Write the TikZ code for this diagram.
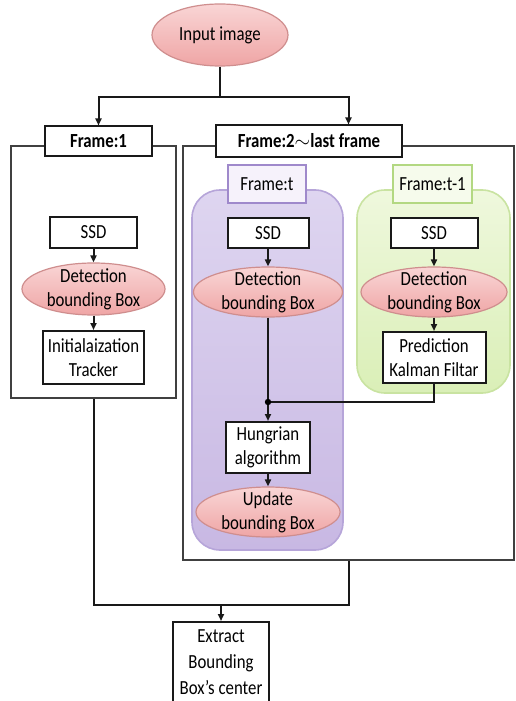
\documentclass[tikz,border=0pt]{standalone}
\usepackage{fontspec}
\setmainfont{Carlito}[FakeStretch=0.84]
\usetikzlibrary{shapes.geometric,arrows.meta}
\definecolor{pinktop}{HTML}{F9D5D5}
\definecolor{pinkbot}{HTML}{EFA5A5}
\definecolor{pinkline}{HTML}{CF8E8E}
\definecolor{lavtop}{HTML}{DED5F0}
\definecolor{lavbot}{HTML}{C8B8E3}
\definecolor{lavline}{HTML}{B6A5D9}
\definecolor{lavedge}{HTML}{9F89CB}
\definecolor{lavfill}{HTML}{F6F2FB}
\definecolor{grtop}{HTML}{EFF8DD}
\definecolor{grbot}{HTML}{DAEFB7}
\definecolor{grline}{HTML}{C9E3A1}
\definecolor{gredge}{HTML}{B3D882}
\definecolor{grfill}{HTML}{F6FBEC}
\definecolor{framegray}{HTML}{404040}

\begin{document}
\begin{tikzpicture}[x=0.5pt,y=-0.5pt,
    txt/.style={font=\fontsize{10}{12}\selectfont, align=center},
    blk/.style={txt, draw=black!90, line width=1pt, fill=white, inner sep=0pt},
    oval/.style={txt, ellipse, draw=pinkline, line width=0.6pt, top color=pinktop, bottom color=pinkbot, inner xsep=0pt, inner ysep=-3pt},
    outerbox/.style={draw=framegray, line width=1.2pt, inner sep=0pt},
    region/.style={rounded corners=14pt, line width=0.8pt, inner sep=0pt},
    ln/.style={draw=black!90, line width=1pt},
    arr/.style={ln, -{Triangle[length=3.5pt,width=3pt]}}]
    \useasboundingbox (0,0) rectangle (515,701);
    \clip (0,0) rectangle (515,701);
    \fill[white] (0,0) rectangle (515,701);

    \node[oval, minimum width=68pt, minimum height=31pt] (inp) at (220,35) {Input image};

    \node[outerbox, minimum width=82.5pt, minimum height=126pt] (lf) at (93.5,272) {};
    \node[outerbox, minimum width=165.5pt, minimum height=207pt] (rf) at (348.5,353) {};
    \node[blk, minimum width=53.5pt, minimum height=14.5pt, font=\fontsize{10}{12}\selectfont\bfseries] (f1) at (98.5,141) {Frame:1};
    \node[blk, minimum width=93pt, minimum height=15.5pt, font=\fontsize{10}{12}\selectfont\bfseries] (f2) at (309,141) {Frame:2$\sim$last frame};

    \node[region, draw=lavline, top color=lavtop, bottom color=lavbot, minimum width=75.5pt, minimum height=180pt] (pu) at (267.5,370) {};
    \node[region, draw=grline, top color=grtop, bottom color=grbot, minimum width=76.5pt, minimum height=101.5pt] (gr) at (433.5,291.5) {};
    \node[blk, draw=lavedge, fill=lavfill, line width=0.8pt, minimum width=39pt, minimum height=19pt] (ft) at (267,184) {Frame:t};
    \node[blk, draw=gredge, fill=grfill, line width=0.8pt, minimum width=39.5pt, minimum height=19pt] (ft1) at (432.5,184) {Frame:t-1};

    \node[blk, minimum width=43.5pt, minimum height=15.5pt] (ssd1) at (93.5,232.5) {SSD};
    \node[oval, minimum width=71.5pt, minimum height=26pt] (det1) at (93.5,289) {Detection\\bounding Box};
    \node[blk, minimum width=50.5pt, minimum height=26.5pt] (init) at (93.5,357.5) {Initialaization\\Tracker};

    \node[blk, minimum width=40.5pt, minimum height=15pt] (ssd2) at (268,233) {SSD};
    \node[oval, minimum width=74.5pt, minimum height=25pt] (det2) at (268,292) {Detection\\bounding Box};
    \node[blk, minimum width=42pt, minimum height=25.5pt] (hung) at (268,447.5) {Hungrian\\algorithm};
    \node[oval, minimum width=72pt, minimum height=25pt] (upd) at (268,512) {Update\\bounding Box};

    \node[blk, minimum width=43.5pt, minimum height=15pt] (ssd3) at (434,233) {SSD};
    \node[oval, minimum width=73pt, minimum height=25pt] (det3) at (434,292) {Detection\\bounding Box};
    \node[blk, minimum width=51.5pt, minimum height=25.5pt] (pred) at (434,357.5) {Prediction\\Kalman Filtar};

    \node[blk, font=\fontsize{10}{13}\selectfont, anchor=north, minimum width=48pt, inner ysep=4pt] (ext) at (221,621) {Extract\\Bounding\\Box’s center};

    \coordinate (sp) at (220,97);
    \coordinate (jn) at (268,402);
    \coordinate (mg) at (221,605);

    \draw[ln] (inp) -- (sp);
    \draw[arr] (sp) -| (f1);
    \draw[arr] (sp) -| (rf.north |- f2.north);

    \draw[arr] (ssd1) -- (det1);
    \draw[arr] (det1) -- (init);

    \draw[arr] (ssd2) -- (det2);
    \draw[arr] (det2) -- (hung);
    \draw[arr] (hung) -- (upd);

    \draw[arr] (ssd3) -- (det3);
    \draw[arr] (det3) -- (pred);
    \draw[ln] (pred) |- (jn);
    \fill (jn) circle (1.6pt);

    \draw[ln] (lf.south) |- (mg -| rf.south) -- (rf.south);
    \draw[arr] (mg) -- (ext);
\end{tikzpicture}
\end{document}
